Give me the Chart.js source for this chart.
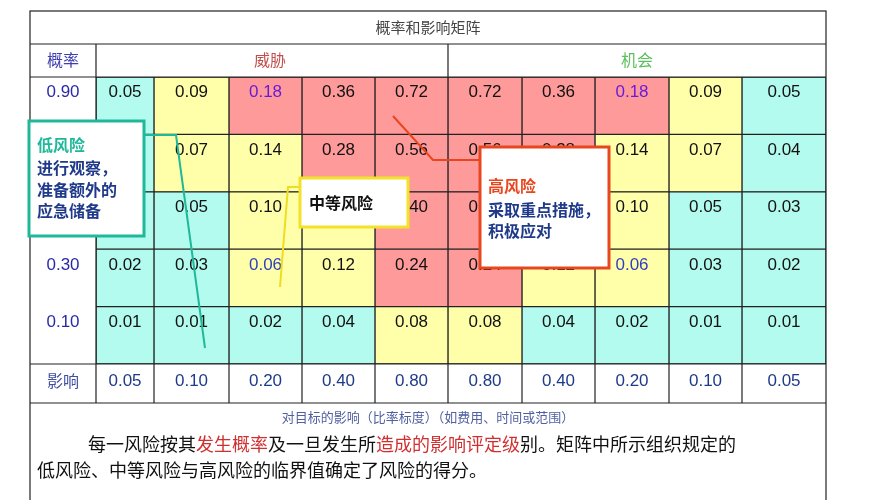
<!DOCTYPE html>
<html><head><meta charset="utf-8">
<script src="https://cdn.jsdelivr.net/npm/chart.js@4"></script>
<style>html,body{margin:0;background:#fff}#wrap{width:870px;height:500px}</style>
</head><body><div id="wrap"><canvas id="c"></canvas></div>
<script>
/* ── Datos ──────────────────────────────────── */
const impact = ["0.05","0.10","0.20","0.40","0.80","0.80","0.40","0.20","0.10","0.05"];
const prob = ["0.90","0.70","0.50","0.30","0.10"];
const row90 = ["0.05","0.09","0.18","0.36","0.72","0.72","0.36","0.18","0.09","0.05"];
const row70 = ["0.04","0.07","0.14","0.28","0.56","0.56","0.28","0.14","0.07","0.04"];
const row50 = ["0.03","0.05","0.10","0.20","0.40","0.40","0.20","0.10","0.05","0.03"];
const row30 = ["0.02","0.03","0.06","0.12","0.24","0.24","0.12","0.06","0.03","0.02"];
const row10 = ["0.01","0.01","0.02","0.04","0.08","0.08","0.04","0.02","0.01","0.01"];
const rows = [row90, row70, row50, row30, row10];
// nivel de riesgo: c = bajo, y = medio, r = alto
const level90 = ["c","y","r","r","r","r","r","r","y","c"];
const level70 = ["c","y","y","r","r","r","r","y","y","c"];
const level50 = ["c","c","y","y","r","r","y","y","c","c"];
const level30 = ["c","c","y","y","r","r","y","y","c","c"];
const level10 = ["c","c","c","c","y","y","c","c","c","c"];
const levels = [level90, level70, level50, level30, level10];

/* ── Layout: bordes de columna (unidades del eje x) ── */
const colEdges = [0, 58, 133, 206, 279, 352, 426, 499, 573, 646, 730];

const fill = { c: "#b3fbee", y: "#ffffaa", r: "#ff9a9a" };
const CJK = '"Noto Sans CJK SC", sans-serif';
const NUM = '"Liberation Sans", Arial, sans-serif';

function txt(ctx, s, x, y, color, font, align) {
  ctx.fillStyle = color; ctx.font = font; ctx.textAlign = align || "center";
  ctx.textBaseline = "middle"; ctx.fillText(s, x, y);
}

const matrixPlugin = {
  id: "matrix",
  afterDatasetsDraw(chart) {
    const ctx = chart.ctx, xs = chart.scales.x, ys = chart.scales.y;
    const colX = (j) => xs.getPixelForValue((colEdges[j] + colEdges[j + 1]) / 2);
    ctx.save();
    rows.forEach((r, i) => r.forEach((v, j) => {
      let col = "#111";
      if (i === 0 && (j === 2 || j === 7)) col = "#6a1bd8";
      if (i === 3 && (j === 2 || j === 7)) col = "#2f3fc0";
      txt(ctx, v, colX(j), ys.getPixelForValue(i) - 13, col, "17px " + NUM);
    }));
    const L = chart.chartArea.left;
    const T = chart.chartArea.top, B = chart.chartArea.bottom;
    ctx.strokeStyle = "#222"; ctx.lineWidth = 1.2;
    ctx.strokeRect(30, 11, 796, 520);
    ctx.beginPath();
    ctx.moveTo(30, 44); ctx.lineTo(826, 44);
    ctx.moveTo(30, T); ctx.lineTo(826, T);
    ctx.moveTo(L, 44); ctx.lineTo(L, 403);
    ctx.moveTo(448, 44); ctx.lineTo(448, T);
    ctx.moveTo(30, 403); ctx.lineTo(826, 403);
    ctx.moveTo(30, B); ctx.lineTo(826, B);
    for (let j = 1; j < impact.length; j++) {
      const x = xs.getPixelForValue(colEdges[j]);
      ctx.moveTo(x, B); ctx.lineTo(x, 403);
    }
    ctx.stroke();
    txt(ctx, "概率和影响矩阵", 428, 27, "#444", "15px " + CJK);
    txt(ctx, "概率", 63, 60, "#4040b0", "16px " + CJK);
    txt(ctx, "威胁", 270, 60, "#c0504d", "16px " + CJK);
    txt(ctx, "机会", 637, 60, "#5cbf5c", "16px " + CJK);
    prob.forEach((p, i) => txt(ctx, p, 63, ys.getPixelForValue(i) - 13, "#2a2aa8", "17px " + NUM));
    txt(ctx, "影响", 63, 381, "#4050a0", "16px " + CJK);
    impact.forEach((v, j) => txt(ctx, v, colX(j), 381, "#1f3a8a", "17px " + NUM));
    txt(ctx, "对目标的影响（比率标度）（如费用、时间或范围）", 428, 417, "#5060a0", "13px " + CJK);
    const parts = [["每一风险按其", "#111"], ["发生概率", "#d03030"], ["及一旦发生所", "#111"],
      ["造成的影响评定级", "#d03030"], ["别。矩阵中所示组织规定的", "#111"]];
    ctx.font = "18px " + CJK; let px = 88;
    parts.forEach(([s, c]) => { txt(ctx, s, px, 444, c, "18px " + CJK, "left"); px += ctx.measureText(s).width; });
    txt(ctx, "低风险、中等风险与高风险的临界值确定了风险的得分。", 37, 470, "#111", "18px " + CJK, "left");

    // anotaciones
    ctx.lineWidth = 2;
    ctx.strokeStyle = "#1fb89a";
    ctx.beginPath(); ctx.moveTo(144, 135); ctx.lineTo(176, 135); ctx.lineTo(205, 348); ctx.stroke();
    ctx.strokeStyle = "#eedd22";
    ctx.beginPath(); ctx.moveTo(300, 187); ctx.lineTo(288, 187); ctx.lineTo(280, 287); ctx.stroke();
    ctx.strokeStyle = "#e8461e";
    ctx.beginPath(); ctx.moveTo(480, 160); ctx.lineTo(433, 160); ctx.lineTo(393, 116); ctx.stroke();

    ctx.lineWidth = 3; ctx.fillStyle = "#fff";
    ctx.fillRect(29, 121, 115, 115); ctx.strokeStyle = "#1fb89a"; ctx.strokeRect(29, 121, 115, 115);
    txt(ctx, "低风险", 37, 145, "#1fb89a", "bold 16px " + CJK, "left");
    ["进行观察，", "准备额外的", "应急储备"].forEach((s, k) => txt(ctx, s, 37, 168 + k * 21.5, "#1f3a8a", "bold 16px " + CJK, "left"));

    ctx.fillStyle = "#fff"; ctx.fillRect(300, 178, 108, 49);
    ctx.strokeStyle = "#f2e22a"; ctx.strokeRect(300, 178, 108, 49);
    txt(ctx, "中等风险", 309, 203, "#111", "bold 16px " + CJK, "left");

    ctx.fillStyle = "#fff"; ctx.fillRect(480, 147, 129, 121);
    ctx.strokeStyle = "#e8461e"; ctx.strokeRect(480, 147, 129, 121);
    txt(ctx, "高风险", 488, 186, "#e8461e", "bold 16px " + CJK, "left");
    ["采取重点措施，", "积极应对"].forEach((s, k) => txt(ctx, s, 488, 210 + k * 21, "#1f3a8a", "bold 16px " + CJK, "left"));
    ctx.restore();
  }
};

new Chart(document.getElementById("c"), {
  type: "bar",
  data: {
    labels: prob,
    datasets: impact.map((imp, j) => ({
      label: imp,
      data: rows.map(() => [colEdges[j], colEdges[j + 1]]),
      backgroundColor: levels.map((l) => fill[l[j]]),
      borderColor: "#222",
      borderWidth: 1,
      borderSkipped: false,
      barPercentage: 1,
      categoryPercentage: 1,
    })),
  },
  options: {
    indexAxis: "y",
    responsive: true,
    maintainAspectRatio: false,
    animation: false,
    layout: { padding: { left: 96, right: 44, top: 77, bottom: 136 } },
    scales: {
      x: { min: 0, max: 730, display: false },
      y: { stacked: true, display: false },
    },
    plugins: { legend: { display: false }, tooltip: { enabled: false } },
  },
  plugins: [matrixPlugin],
});
</script></body></html>
